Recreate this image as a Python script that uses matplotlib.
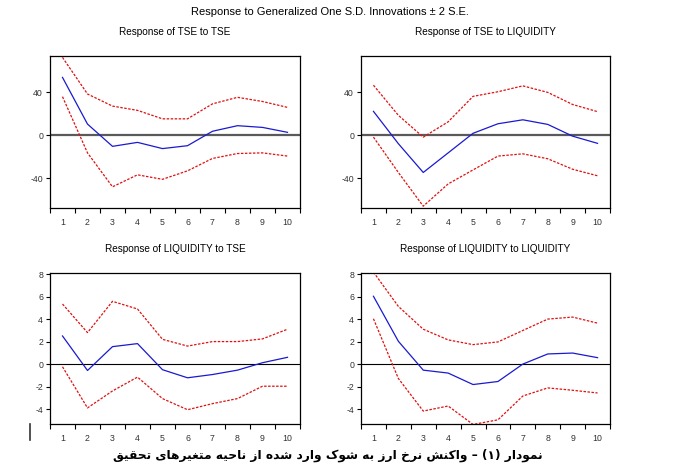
import numpy as np
import matplotlib.pyplot as plt
from matplotlib.lines import Line2D
from matplotlib.ticker import MultipleLocator, FixedLocator

plt.rcParams['font.family'] = ['Liberation Sans', 'DejaVu Sans']
plt.rcParams['axes.unicode_minus'] = False

periods = np.arange(1, 11)

# Response of TSE to TSE
tse_tse = [54, 10.4, -10.4, -6.7, -12.5, -9.8, 3.7, 8.9, 7.3, 2.7]
tse_tse_hi = [72.7, 38.5, 27.2, 23.2, 15.3, 15.3, 29.3, 35.4, 31.5, 26]
tse_tse_lo = [36, -16.5, -48.2, -37, -41.2, -33.3, -21.7, -17.1, -16.5, -19.5]

# Response of TSE to LIQUIDITY
tse_liq = [22.3, -7.9, -34.8, -16.5, 1.8, 10.7, 14.4, 10.1, -0.9, -7.6]
tse_liq_hi = [46.7, 18.6, -1.8, 12.5, 36.3, 40.6, 46.1, 40, 28.7, 22]
tse_liq_lo = [-1.8, -34.8, -66.3, -45.5, -32.4, -19.5, -17.4, -22, -31.8, -37.9]

# Response of LIQUIDITY to TSE
liq_tse = [2.5, -0.57, 1.55, 1.82, -0.5, -1.22, -0.93, -0.54, 0.12, 0.6]
liq_tse_hi = [5.34, 2.8, 5.58, 4.9, 2.2, 1.6, 2.0, 2.0, 2.24, 3.1]
liq_tse_lo = [-0.24, -3.9, -2.39, -1.16, -3.07, -4.06, -3.52, -3.07, -1.97, -1.97]

# Response of LIQUIDITY to LIQUIDITY
liq_liq = [6.03, 2.03, -0.54, -0.8, -1.82, -1.55, 0.0, 0.9, 0.98, 0.57]
liq_liq_hi = [8.18, 5.13, 3.1, 2.15, 1.73, 1.97, 2.99, 4.0, 4.18, 3.64]
liq_liq_lo = [4.03, -1.28, -4.18, -3.73, -5.37, -4.96, -2.84, -2.12, -2.33, -2.57]

titles = ["Response of TSE to TSE", "Response of TSE to LIQUIDITY",
          "Response of LIQUIDITY to TSE", "Response of LIQUIDITY to LIQUIDITY"]
suptitle = "Response to Generalized One S.D. Innovations \u00b1 2 S.E."
caption = "نمودار (۱) – واکنش نرخ ارز به شوک وارد شده از ناحیه متغیرهای تحقیق"


# minimal arabic/persian shaping (no arabic_reshaper available)
FORMS = {
    'ا': ('\uFE8D', '\uFE8E', None, None),
    'ب': ('\uFE8F', '\uFE90', '\uFE91', '\uFE92'),
    'ت': ('\uFE95', '\uFE96', '\uFE97', '\uFE98'),
    'ح': ('\uFEA1', '\uFEA2', '\uFEA3', '\uFEA4'),
    'خ': ('\uFEA5', '\uFEA6', '\uFEA7', '\uFEA8'),
    'د': ('\uFEA9', '\uFEAA', None, None),
    'ر': ('\uFEAD', '\uFEAE', None, None),
    'ز': ('\uFEAF', '\uFEB0', None, None),
    'ش': ('\uFEB5', '\uFEB6', '\uFEB7', '\uFEB8'),
    'غ': ('\uFECD', '\uFECE', '\uFECF', '\uFED0'),
    'ق': ('\uFED5', '\uFED6', '\uFED7', '\uFED8'),
    'م': ('\uFEE1', '\uFEE2', '\uFEE3', '\uFEE4'),
    'ن': ('\uFEE5', '\uFEE6', '\uFEE7', '\uFEE8'),
    'ه': ('\uFEE9', '\uFEEA', '\uFEEB', '\uFEEC'),
    'و': ('\uFEED', '\uFEEE', None, None),
    'ی': ('\uFBFC', '\uFBFD', '\uFBFE', '\uFBFF'),
    'ک': ('\uFB8E', '\uFB8F', '\uFB90', '\uFB91'),
}


def shape_rtl(text):
    out = []
    for i, c in enumerate(text):
        if c not in FORMS:
            out.append(c)
            continue
        prev = text[i - 1] if i > 0 else ''
        nxt = text[i + 1] if i + 1 < len(text) else ''
        join_prev = prev in FORMS and FORMS[prev][2] is not None
        join_next = FORMS[c][2] is not None and nxt in FORMS
        iso, fin, ini, med = FORMS[c]
        if join_prev and join_next:
            out.append(med)
        elif join_prev:
            out.append(fin)
        elif join_next:
            out.append(ini)
        else:
            out.append(iso)
    swap = {'(': ')', ')': '('}
    return ''.join(swap.get(c, c) for c in reversed(out))


W, H = 677, 473
fig = plt.figure(figsize=(W / 100, H / 100), dpi=100)

boxes = [(50, 56, 250, 152), (361, 56, 249, 152),
         (50, 273, 250, 151), (361, 273, 249, 151)]
series = [(tse_tse, tse_tse_hi, tse_tse_lo), (tse_liq, tse_liq_hi, tse_liq_lo),
          (liq_tse, liq_tse_hi, liq_tse_lo), (liq_liq, liq_liq_hi, liq_liq_lo)]

for k, ((x0, y0, w, h), (mid, hi, lo)) in enumerate(zip(boxes, series)):
    ax = fig.add_axes([x0 / W, 1 - (y0 + h) / H, w / W, h / H])
    if k < 2:
        ax.axhline(0, color='#5a5a5a', lw=1.6, zorder=1)
    else:
        ax.axhline(0, color='black', lw=0.8, zorder=1)
    ax.plot(periods, hi, color='#e01010', lw=0.9, ls=(0, (2, 1.2)), zorder=2)
    ax.plot(periods, lo, color='#e01010', lw=0.9, ls=(0, (2, 1.2)), zorder=2)
    ax.plot(periods, mid, color='#1a1ad0', lw=0.9, zorder=3)
    ax.set_xlim(0.5, 10.5)
    if k < 2:
        ax.set_ylim(-68, 74)
        ax.yaxis.set_major_locator(FixedLocator([-40, 0, 40]))
    else:
        ax.set_ylim(-5.33, 8.1)
        ax.yaxis.set_major_locator(FixedLocator([-4, -2, 0, 2, 4, 6, 8]))
    ax.xaxis.set_major_locator(FixedLocator(periods))
    ax.xaxis.set_minor_locator(MultipleLocator(1, offset=0.5))
    ax.tick_params(axis='x', which='major', length=0, pad=7, labelsize=6.3, labelcolor='#333333')
    ax.tick_params(axis='x', which='minor', length=3.5, width=0.8, direction='out')
    ax.tick_params(axis='y', which='major', length=3, width=0.8, direction='out', pad=2,
                   labelsize=6.3, labelcolor='#333333')
    for s in ax.spines.values():
        s.set_linewidth(0.9)
    ax.set_title(titles[k], fontsize=7.2, pad=15)

fig.text(330 / W, 1 - 12 / H, suptitle, ha='center', va='center', fontsize=8)
fig.text(328 / W, 1 - 455 / H, shape_rtl(caption), ha='center', va='center',
         fontsize=8.8, fontweight='bold', family=['DejaVu Sans'])
fig.add_artist(Line2D([30 / W, 30 / W], [1 - 424 / H, 1 - 440 / H], color='#333333', lw=1.2))

fig.savefig('out.png', dpi=100)
